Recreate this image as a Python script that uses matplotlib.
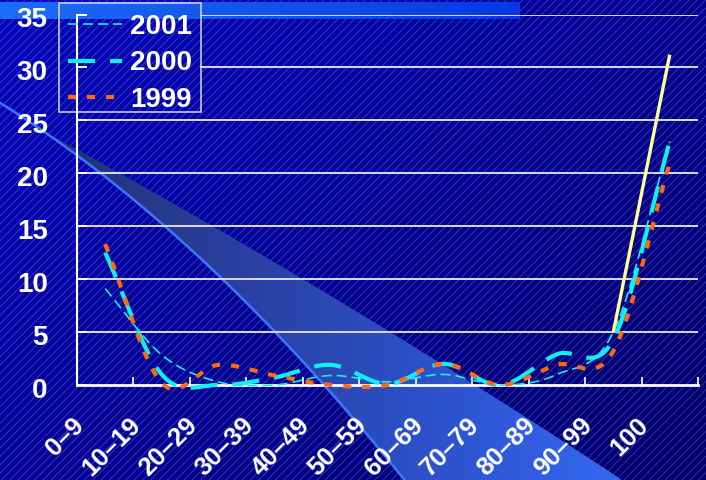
import numpy as np
import matplotlib
matplotlib.use('Agg')
import matplotlib.pyplot as plt
from matplotlib.collections import LineCollection
from matplotlib.patches import Polygon, Rectangle
from matplotlib.colors import to_rgb
import matplotlib.transforms as mtransforms

# ---------------- data ----------------
categories = ['0–9', '10–19', '20–29', '30–39', '40–49', '50–59',
              '60–69', '70–79', '80–89', '90–99', '100']
s2001 = [9.1, 2.85, 0.3, 0.0, 0.9, 0.3, 1.0, 0.0, 1.0, 5.0, 23.0]
s2000 = [12.5, 1.0, 0.0, 0.7, 1.9, 0.1, 2.0, 0.0, 2.9, 4.3, 23.0]
s1999 = [13.3, 0.2, 1.9, 0.9, 0.0, 0.0, 2.0, 0.0, 1.9, 3.2, 21.0]
trend_cats = ['90–99', '100']
trend_vals = [5.0, 31.2]
y_ticks = [0, 5, 10, 15, 20, 25, 30, 35]
series_labels = ['2001', '2000', '1999']

plt.rcParams['lines.scale_dashes'] = False
FONT = ['Liberation Sans', 'DejaVu Sans']

W, H = 706, 480
fig = plt.figure(figsize=(W / 100, H / 100), dpi=100)

# ---------------- background ----------------
bg = fig.add_axes([0, 0, 1, 1], zorder=0)
bg.set_xlim(0, W)
bg.set_ylim(H, 0)
bg.axis('off')

yy, xx = np.mgrid[0:H, 0:W]
t = (xx / W) * 0.55 + (yy / H) * 0.45
c0 = np.array(to_rgb('#0606C0'))
c1 = np.array(to_rgb('#00006E'))
img = c0[None, None, :] * (1 - t[..., None]) + c1[None, None, :] * t[..., None]
bg.imshow(img, extent=(0, W, H, 0), aspect='auto', zorder=0, interpolation='bilinear')

# diagonal stripes
segs = []
for x0 in np.arange(-H, W + 8, 8.3):
    segs.append([(x0, H), (x0 + H, 0)])
bg.add_collection(LineCollection(segs, colors=(1, 1, 1, 0.28), linewidths=0.5, zorder=1))

# light beam
lower_pts = np.array([(0, 101), (107, 180), (214, 277), (321, 370), (400, 480)])
upper_pts = np.array([(30, 123), (220, 232), (360, 315), (473, 380), (620, 480)])
pl = np.polyfit(lower_pts[:, 0], lower_pts[:, 1], 2)
pu = np.polyfit(upper_pts[:, 0], upper_pts[:, 1], 2)
xl = np.linspace(30, 405, 60)
xu = np.linspace(620, 30, 60)
poly = np.vstack([np.column_stack([xl, np.polyval(pl, xl)]),
                  [(405, 482), (622, 482)],
                  np.column_stack([xu, np.polyval(pu, xu)])])
beam = Polygon(poly, closed=True, facecolor='none', edgecolor='none')
bg.add_patch(beam)
gx = np.linspace(0, 1, 256)
stops = [(0.0, '#20306E'), (0.35, '#2A40A0'), (0.65, '#2C50C8'), (1.0, '#3468F2')]
sx = [s[0] for s in stops]
sc = np.array([to_rgb(s[1]) for s in stops])
grad = np.stack([np.interp(gx, sx, sc[:, k]) for k in range(3)], axis=-1)[None, :, :]
gi = bg.imshow(np.repeat(grad, 4, axis=0), extent=(30, 625, H + 2, 100), aspect='auto',
               zorder=2, interpolation='bilinear')
gi.set_clip_path(beam)
xe = np.linspace(0, 405, 100)
bg.plot(xe, np.polyval(pl, xe), color='#3A76FF', lw=1.8, zorder=3)

# top bar
tb0 = np.array(to_rgb('#1C6EF6'))
tb1 = np.array(to_rgb('#0838E4'))
tx = np.linspace(0, 1, 256)[None, :]
timg = tb0[None, None, :] * (1 - tx[..., None]) + tb1[None, None, :] * tx[..., None]
bg.imshow(np.repeat(timg, 4, axis=0), extent=(0, 520, 19, 2), aspect='auto',
          zorder=4, interpolation='bilinear')
bg.set_xlim(0, W)
bg.set_ylim(H, 0)

# legend frame
bg.add_patch(Rectangle((59, 3), 142, 109, facecolor='none', edgecolor='#D8D8EC',
                       lw=1.1, zorder=5))

# ---------------- chart ----------------
L, R, B, T = 77, 698, 385, 14.5
ax = fig.add_axes([L / W, 1 - B / H, (R - L) / W, (B - T) / H], zorder=2)
ax.patch.set_alpha(0)
n = len(categories)
ax.set_xlim(-0.5, n - 0.5)
ax.set_ylim(0, 35)


def smooth(vals, k=40):
    y = np.asarray(vals, float)
    N = len(y)
    m = np.zeros(N)
    m[1:-1] = (y[2:] - y[:-2]) / 2
    m[0] = y[1] - y[0]
    m[-1] = y[-1] - y[-2]
    xs, ys = [], []
    for i in range(N - 1):
        tt = np.linspace(0, 1, k, endpoint=(i == N - 2))
        h00 = 2 * tt**3 - 3 * tt**2 + 1
        h10 = tt**3 - 2 * tt**2 + tt
        h01 = -2 * tt**3 + 3 * tt**2
        h11 = tt**3 - tt**2
        xs.append(i + tt)
        ys.append(h00 * y[i] + h10 * m[i] + h01 * y[i + 1] + h11 * m[i + 1])
    return np.concatenate(xs), np.concatenate(ys)


# gridlines
leg_frac = (201 - L) / (R - L)
for v in y_ticks[1:]:
    ax.axhline(v, xmin=(leg_frac if v >= 30 else 0), xmax=1,
               color='#DADAEA', lw=1.4, zorder=1)

x_idx = np.arange(n)
xs, ys = smooth(s2001)
ax.plot(xs, ys, color='#20E8F0', lw=1.2, dashes=(7.2, 3.6), dash_capstyle='butt',
        clip_on=False, zorder=3, label=series_labels[0])
xs, ys = smooth(s2000)
ax.plot(xs, ys, color='#10F0F0', lw=3.0, dashes=(19.4, 10.8), dash_capstyle='butt',
        clip_on=False, zorder=4, label=series_labels[1])
xs, ys = smooth(s1999)
ax.plot(xs, ys, color='#FF6A10', lw=3.0, dashes=(5.8, 7.9), dash_capstyle='butt',
        clip_on=False, zorder=5, label=series_labels[2])

tx_idx = [categories.index(c) for c in trend_cats]
ax.plot(tx_idx, trend_vals, color='#FFFF99', lw=2.4, zorder=6, clip_on=False,
        solid_capstyle='butt')

# spines
for s in ['top', 'right']:
    ax.spines[s].set_visible(False)
ax.spines['left'].set_color('white')
ax.spines['left'].set_linewidth(1.5)
ax.spines['bottom'].set_color('white')
ax.spines['bottom'].set_linewidth(2.0)

# y ticks
ax.set_yticks(y_ticks)
ax.set_yticklabels([str(v) for v in y_ticks])
ax.tick_params(axis='y', direction='in', length=7.2, width=1.4, color='white',
               labelcolor='white', pad=21, labelsize=20)
yoff = mtransforms.ScaledTranslation(0, -2.5 / 100, fig.dpi_scale_trans)
for lab in ax.get_yticklabels():
    lab.set_fontfamily(FONT)
    lab.set_fontweight('bold')
    lab.set_transform(lab.get_transform() + yoff)

# x ticks: boundaries as marks, labels at category centres
ax.set_xticks(np.arange(-0.5, n, 1.0))
ax.set_xticklabels([])
ax.tick_params(axis='x', which='major', direction='in', length=5.8, width=1.4,
               color='#E0E0F0')
ax.set_xticks(x_idx, minor=True)
ax.set_xticklabels(categories, minor=True)
ax.tick_params(axis='x', which='minor', length=0, pad=26.5, labelsize=18.5,
               labelcolor='white')
offset = mtransforms.ScaledTranslation(-25 / 100, 0, fig.dpi_scale_trans)
for lab in ax.get_xticklabels(minor=True):
    lab.set_fontfamily(FONT)
    lab.set_fontweight('bold')
    lab.set_rotation(45)
    lab.set_rotation_mode('anchor')
    lab.set_ha('right')
    lab.set_va('center')
    lab.set_transform(lab.get_transform() + offset)

# legend (frame drawn separately)
leg = ax.legend(loc='upper left', bbox_to_anchor=(68 / W, 1 - 14 / H),
                bbox_transform=fig.transFigure, borderaxespad=0,
                prop={'family': FONT, 'weight': 'bold', 'size': 20},
                handlelength=1.94, handletextpad=0.3, borderpad=0,
                labelspacing=0.37, frameon=False)
for txt in leg.get_texts():
    txt.set_color('white')
leg.set_zorder(10)

fig.savefig('out.png', dpi=100)
